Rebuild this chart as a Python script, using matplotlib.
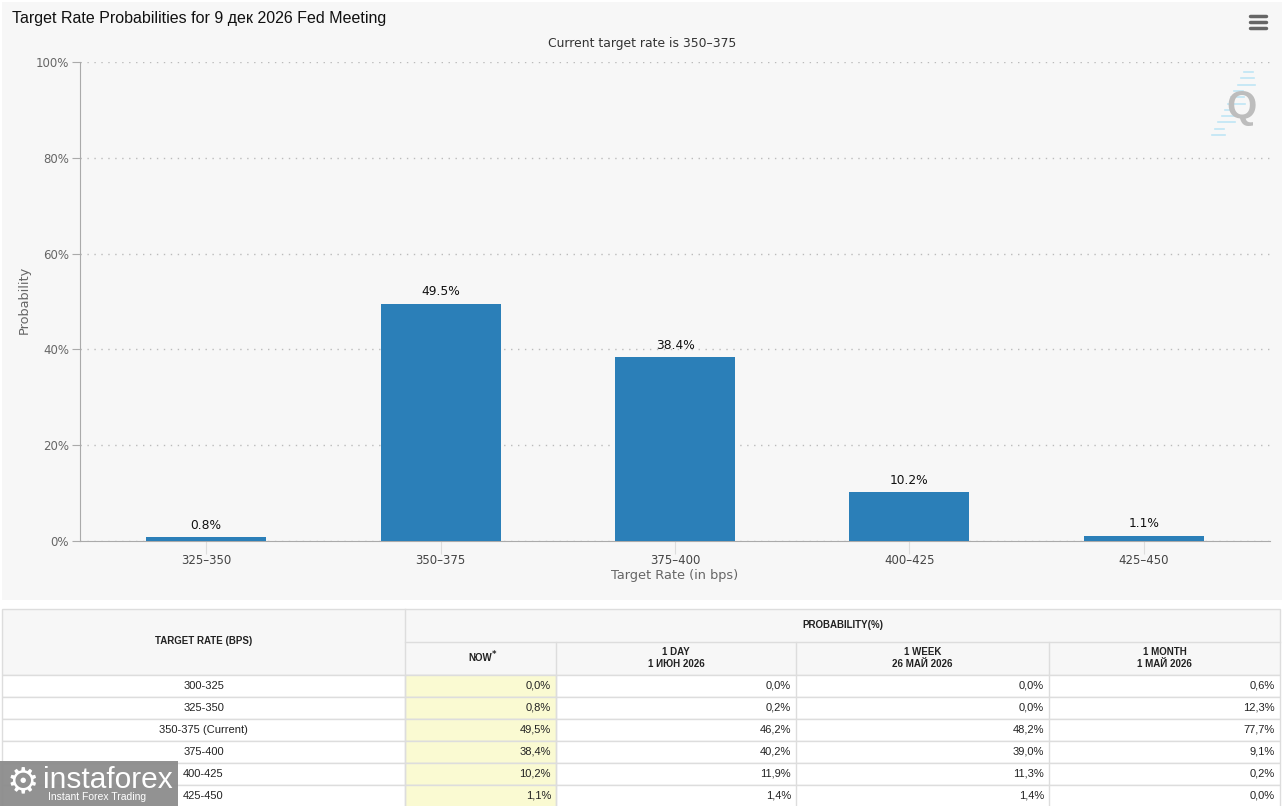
import numpy as np
import matplotlib
matplotlib.use("Agg")
import matplotlib.pyplot as plt
from matplotlib.patches import Rectangle

# chart data
rates = ["325–350", "350–375", "375–400", "400–425", "425–450"]
probs = [0.8, 49.5, 38.4, 10.2, 1.1]

# table data
table_rates = ["300-325", "325-350", "350-375 (Current)", "375-400", "400-425", "425-450"]
now_vals = ["0,0%", "0,8%", "49,5%", "38,4%", "10,2%", "1,1%"]
day_vals = ["0,0%", "0,2%", "46,2%", "40,2%", "11,9%", "1,4%"]
week_vals = ["0,0%", "0,0%", "48,2%", "39,0%", "11,3%", "1,4%"]
month_vals = ["0,6%", "12,3%", "77,7%", "9,1%", "0,2%", "0,0%"]
col_heads = ["NOW", "1 DAY\n1 ИЮН 2026", "1 WEEK\n26 МАЙ 2026", "1 MONTH\n1 МАЙ 2026"]

W, H = 1284, 806
fig = plt.figure(figsize=(W / 100, H / 100), dpi=100)
fig.patch.set_facecolor("white")

# full-figure axes in pixel coords for background, table and decorations
bg = fig.add_axes([0, 0, 1, 1])
bg.set_xlim(0, W)
bg.set_ylim(H, 0)
bg.axis("off")

bg.add_patch(Rectangle((2, 2), 1280, 598, facecolor="#f7f7f7", edgecolor="none"))
bg.text(12, 19, "Target Rate Probabilities for 9 дек 2026 Fed Meeting",
        fontsize=11.5, family="Liberation Sans", color="#111111", va="center")
bg.text(642, 43, "Current target rate is 350–375", fontsize=8.9,
        color="#333333", ha="center", va="center")
bg.text(24, 300, "Probability", rotation=90, fontsize=9.3, color="#666666",
        ha="center", va="center")
bg.text(675, 576, "Target Rate (in bps)", fontsize=9.3, color="#666666",
        ha="center", va="center")

# menu icon
for yy in [16, 22, 28]:
    bg.plot([1250, 1266], [yy, yy], color="#666666", lw=2.5, solid_capstyle="round")

# Q logo
for i in range(11):
    y0 = 72 + i * 6.3
    x0 = 1244 - i * 3.2
    bg.plot([x0, x0 + 9 + (i % 3) * 4], [y0, y0], color="#bfe6f5", lw=1.2)
bg.text(1241, 108, "Q", fontsize=28, fontweight="bold", color="#bdbdbd",
        ha="center", va="center", family="Liberation Sans")

# bar chart
ax = fig.add_axes([80 / W, 1 - 541 / H, 1190 / W, 479 / H])
ax.set_facecolor("none")
x = np.arange(len(rates))
bars = ax.bar(x, probs, width=0.512, color="#2b7fb8", zorder=3)
for xi, v in zip(x, probs):
    ax.annotate(f"{v}%", (xi, v), xytext=(0, 4), textcoords="offset points",
                ha="center", va="bottom", fontsize=8.8, color="#111111")
ax.set_xlim(-0.538, len(rates) - 0.5 + 0.038)
ax.set_ylim(0, 100)
ax.set_yticks(np.arange(0, 101, 20))
ax.set_yticklabels([f"{t}%" for t in range(0, 101, 20)])
ax.set_xticks(x)
ax.set_xticklabels(rates)
ax.tick_params(axis="y", length=6, color="#aaaaaa", labelcolor="#666666", labelsize=8.5, pad=2)
ax.tick_params(axis="x", length=9, color="#dddddd", labelcolor="#444444", labelsize=8.5, pad=0)
ax.grid(axis="y", linestyle=(0, (1, 4)), color="#bbbbbb", lw=1)
for s in ["top", "right"]:
    ax.spines[s].set_visible(False)
ax.spines["left"].set_color("#aaaaaa")
ax.spines["bottom"].set_color("#aaaaaa")

# table
cols = [2, 405, 556, 796, 1049, 1280]
top, h1, h2 = 609, 642, 675
row_h = 22
grid = "#dddddd"
bg.add_patch(Rectangle((2, top), 1278, h2 - top, facecolor="#f7f7f7", edgecolor=grid, lw=1))
for r in range(len(table_rates)):
    y0 = h2 + r * row_h
    bg.add_patch(Rectangle((2, y0), 1278, row_h, facecolor="white", edgecolor=grid, lw=1))
    bg.add_patch(Rectangle((cols[1], y0), cols[2] - cols[1], row_h, facecolor="#fafad2",
                           edgecolor=grid, lw=1))
for cx in cols[1:-1]:
    bg.plot([cx, cx], [top if cx == cols[1] else h1, H], color=grid, lw=1)
bg.plot([cols[1], cols[-1]], [h1, h1], color=grid, lw=1)

hk = dict(fontsize=7, fontweight="bold", family="Liberation Sans", color="#222222",
          ha="center", va="center")
bg.text((cols[0] + cols[1]) / 2, 641, "TARGET RATE (BPS)", **hk)
bg.text((cols[1] + cols[-1]) / 2, 625, "PROBABILITY(%)", **hk)
for i, head in enumerate(col_heads):
    bg.text((cols[i + 1] + cols[i + 2]) / 2, 658, head, linespacing=1.3, **hk)
bg.text(494, 655, "*", fontsize=6, fontweight="bold", color="#222222", ha="center", va="center")

vk = dict(fontsize=8, family="Liberation Sans", color="#222222", va="center")
for r, lab in enumerate(table_rates):
    yc = h2 + r * row_h + row_h / 2
    bg.text((cols[0] + cols[1]) / 2, yc, lab, ha="center", **vk)
    for c, vals in enumerate([now_vals, day_vals, week_vals, month_vals]):
        bg.text(cols[c + 2] - 5, yc, vals[r], ha="right", **vk)

# watermark
bg.add_patch(Rectangle((0, 761), 178, 45, facecolor="#8c8c8c", edgecolor="none", alpha=0.95))
bg.text(43, 780, "instaforex", fontsize=21.5, color="white", va="center", ha="left",
        family="Liberation Sans")
bg.text(48, 797, "Instant Forex Trading", fontsize=7.5, color="white", va="center", ha="left",
        family="Liberation Sans")
bg.text(23, 782, "⚙", fontsize=26, color="white", va="center", ha="center")

fig.savefig("out.png", dpi=100, facecolor=fig.get_facecolor())
